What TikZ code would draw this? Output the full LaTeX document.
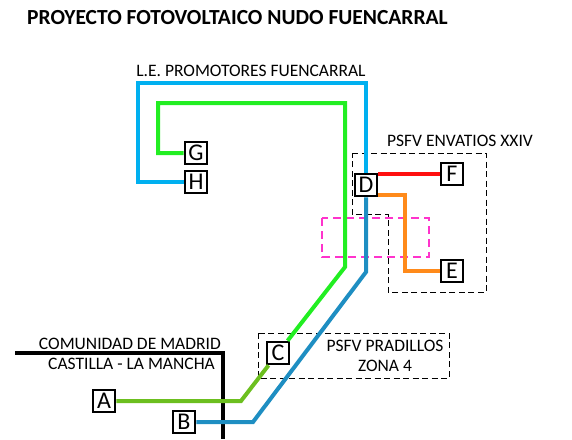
\documentclass[tikz,border=0pt]{standalone}
\usepackage{fontspec}
\setmainfont{Carlito}
\definecolor{skyline}{HTML}{00B0F0}
\definecolor{deepline}{HTML}{1E8EC2}
\definecolor{limeline}{HTML}{22EE22}
\definecolor{grassline}{HTML}{6CBF1F}
\definecolor{redline}{HTML}{FF1010}
\definecolor{orangeline}{HTML}{FF8A1A}
\definecolor{pinkzone}{HTML}{FF33CC}

\tikzset{
  site/.style={draw=black, line width=2.6pt, fill=white, minimum size=22pt,
    inner sep=0pt, font=\fontsize{24}{24}\selectfont},
  zone/.style={draw=black, line width=0.8pt, dash pattern=on 6pt off 3.5pt},
  cable/.style={line width=4pt},
  label/.style={font=\fontsize{17.5}{20}\selectfont, inner sep=0pt},
}

\begin{document}
\begin{tikzpicture}[x=1pt,y=-1pt]
  \useasboundingbox (0,0) rectangle (572,439);

  % title
  \node[anchor=west, inner sep=0pt, font=\bfseries\fontsize{21.5}{24}\selectfont] (title) at (27,18) {PROYECTO FOTOVOLTAICO NUDO FUENCARRAL};

  % plants (dashed areas)
  \draw[zone] (352,153) -- (486,153) -- (486,292) -- (388,292) -- (388,214) -- (352,214) -- cycle;
  \draw[zone] (258,333) rectangle (449,378);
  \draw[draw=pinkzone, line width=2pt, dash pattern=on 8pt off 5pt] (322,218) rectangle (429,257);

  % border between regions
  \draw[line width=3.5pt] (15,353) -- (223,353) -- (223,439);

  % nodes
  \node[site] (G) at (196,153) {G};
  \node[site] (H) at (196,182) {H};
  \node[site] (D) at (366,185) {D};
  \node[site] (F) at (452,174) {F};
  \node[site] (E) at (452,271) {E};
  \node[site] (C) at (278,353) {C};
  \node[site] (A) at (104,401) {A};
  \node[site] (B) at (184,422) {B};

  % cables
  \draw[cable, skyline] (H) -- (138,182) |- (366,83) -- (D);
  \draw[cable, limeline] (G) -- (158,153) |- (345,103) -- (345,267) -- (C);
  \draw[cable, grassline] (A) -- (241,401) -- (C);
  \draw[cable, deepline] (D) -- (366,272) -- (253,422) -- (B);
  \draw[cable, redline] (F) -- (F -| D.east);
  \draw[cable, orangeline] (D.south east) ++(0,-2) -| (405,271) -- (E);

  % labels
  \node[label] (lineName) at (251,71) {L.E. PROMOTORES FUENCARRAL};
  \node[label] (envatios) at (460,141) {PSFV ENVATIOS XXIV};
  \node[label, align=center] (pradillos) at (385,356) {PSFV PRADILLOS\\ZONA 4};
  \node[label, anchor=east] (madrid) at (221,344) {COMUNIDAD DE MADRID};
  \node[label, anchor=east] (castilla) at (215,364) {CASTILLA - LA MANCHA};
\end{tikzpicture}
\end{document}
